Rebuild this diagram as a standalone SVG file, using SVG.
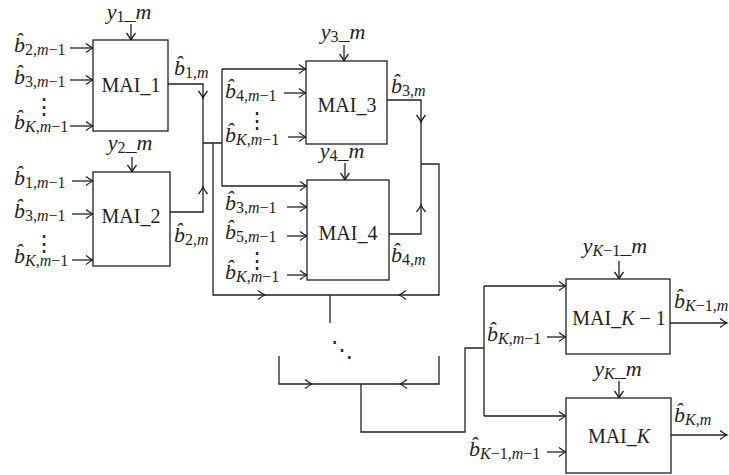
<svg xmlns="http://www.w3.org/2000/svg" xmlns:xlink="http://www.w3.org/1999/xlink" width="729" height="475" viewBox="0 0 729 475">
<style>
.t{font-family:"Liberation Serif","Times New Roman",serif;font-size:22px;fill:#231f20}
.i{font-style:italic}
.s{font-size:16px}
.mai{font-family:"Liberation Serif","Times New Roman",serif;font-size:20px;fill:#231f20;text-anchor:middle}
.d{font-family:"DejaVu Serif",serif;font-size:22px;fill:#231f20;text-anchor:middle}
.box{fill:#fff;stroke:#231f20;stroke-width:1.3}
.ln{fill:none;stroke:#231f20;stroke-width:1.3}
.ar{fill:none;stroke:#231f20;stroke-width:1.3;marker-end:url(#ah)}
</style>
<defs>
<marker id="ah" markerUnits="userSpaceOnUse" markerWidth="12" markerHeight="12" refX="0" refY="0" viewBox="-9 -6 10 12" orient="auto" overflow="visible">
<path d="M-7,-4.5 Q-2.5,-1 0,0 Q-2.5,1 -7,4.5" fill="none" stroke="#231f20" stroke-width="1.3"/>
</marker>
<path id="ch" d="M-7,-4.5 Q-2.5,-1 0,0 Q-2.5,1 -7,4.5" fill="none" stroke="#231f20" stroke-width="1.3"/>
</defs>
<rect width="729" height="475" fill="#fff"/>

<g id="connectors">
<path class="ln" d="M168,84 H203 V212 H170"/>
<path class="ln" d="M203,143 H222 M222,69 V186 M213,143 V295 H439 V164 H421"/>
<path class="ln" d="M387,100 H421 V234 H389"/>
<path class="ln" d="M330,295 V323"/>
<path class="ln" d="M279,356 V384 H439 V356 M361,384 V432 H465 V348 H484 M484,286 V416"/>
<use xlink:href="#ch" transform="translate(203,98) rotate(90)"/>
<use xlink:href="#ch" transform="translate(203,187) rotate(-90)"/>
<use xlink:href="#ch" transform="translate(265,295)"/>
<use xlink:href="#ch" transform="translate(399,295) rotate(180)"/>
<use xlink:href="#ch" transform="translate(421,122) rotate(90)"/>
<use xlink:href="#ch" transform="translate(421,205) rotate(-90)"/>
<use xlink:href="#ch" transform="translate(312,384)"/>
<use xlink:href="#ch" transform="translate(400,384) rotate(180)"/>
<path class="ar" d="M70,48 H93"/>
<path class="ar" d="M70,80 H93"/>
<path class="ar" d="M70,126 H93"/>
<path class="ar" d="M72,181 H93"/>
<path class="ar" d="M72,214 H93"/>
<path class="ar" d="M72,260 H93"/>
<path class="ar" d="M131,24 V40"/>
<path class="ar" d="M132,157 V172"/>
<path class="ar" d="M344,45 V61"/>
<path class="ar" d="M345,163 V180"/>
<path class="ar" d="M619,261 V279"/>
<path class="ar" d="M619,381 V398"/>
<path class="ar" d="M222,69 H306"/>
<path class="ar" d="M284,93 H306"/>
<path class="ar" d="M288,137 H306"/>
<path class="ar" d="M222,186 H307"/>
<path class="ar" d="M287,207 H307"/>
<path class="ar" d="M287,236 H307"/>
<path class="ar" d="M287,275 H307"/>
<path class="ar" d="M484,286 H566"/>
<path class="ar" d="M547,337 H566"/>
<path class="ar" d="M484,416 H566"/>
<path class="ar" d="M547,452 H566"/>
<path class="ar" d="M670,323 H727"/>
<path class="ar" d="M671,435 H727"/>
<text class="d" x="342" y="357">⋱</text>
</g>

<g id="mai1">
<rect class="box" x="93" y="40" width="75" height="91"/>
<text class="mai" x="131" y="92">MAI_1</text>
<text class="t" x="129" y="19" text-anchor="middle"><tspan class="i">y</tspan><tspan class="s" dy="3">1</tspan><tspan dy="-3">_</tspan><tspan class="i">m</tspan></text>
<text class="t" x="14" y="52"><tspan class="i">b̂</tspan><tspan class="s" dy="3">2,<tspan class="i">m</tspan>−1</tspan></text>
<text class="t" x="14" y="84"><tspan class="i">b̂</tspan><tspan class="s" dy="3">3,<tspan class="i">m</tspan>−1</tspan></text>
<text class="d" x="44" y="114">⋮</text>
<text class="t" x="14" y="129"><tspan class="i">b̂</tspan><tspan class="s" dy="3"><tspan class="i">K</tspan>,<tspan class="i">m</tspan>−1</tspan></text>
<text class="t" x="174" y="75"><tspan class="i">b̂</tspan><tspan class="s" dy="3">1,<tspan class="i">m</tspan></tspan></text>
</g>

<g id="mai2">
<rect class="box" x="93" y="172" width="77" height="94"/>
<text class="mai" x="131" y="223">MAI_2</text>
<text class="t" x="130" y="150" text-anchor="middle"><tspan class="i">y</tspan><tspan class="s" dy="3">2</tspan><tspan dy="-3">_</tspan><tspan class="i">m</tspan></text>
<text class="t" x="14" y="185"><tspan class="i">b̂</tspan><tspan class="s" dy="3">1,<tspan class="i">m</tspan>−1</tspan></text>
<text class="t" x="14" y="218"><tspan class="i">b̂</tspan><tspan class="s" dy="3">3,<tspan class="i">m</tspan>−1</tspan></text>
<text class="d" x="44" y="251">⋮</text>
<text class="t" x="14" y="263"><tspan class="i">b̂</tspan><tspan class="s" dy="3"><tspan class="i">K</tspan>,<tspan class="i">m</tspan>−1</tspan></text>
<text class="t" x="174" y="242"><tspan class="i">b̂</tspan><tspan class="s" dy="3">2,<tspan class="i">m</tspan></tspan></text>
</g>

<g id="mai3">
<rect class="box" x="306" y="61" width="81" height="83"/>
<text class="mai" x="347" y="112">MAI_3</text>
<text class="t" x="343" y="39" text-anchor="middle"><tspan class="i">y</tspan><tspan class="s" dy="3">3</tspan><tspan dy="-3">_</tspan><tspan class="i">m</tspan></text>
<text class="t" x="225" y="98"><tspan class="i">b̂</tspan><tspan class="s" dy="3">4,<tspan class="i">m</tspan>−1</tspan></text>
<text class="d" x="257" y="128">⋮</text>
<text class="t" x="225" y="142"><tspan class="i">b̂</tspan><tspan class="s" dy="3"><tspan class="i">K</tspan>,<tspan class="i">m</tspan>−1</tspan></text>
<text class="t" x="391" y="93"><tspan class="i">b̂</tspan><tspan class="s" dy="3">3,<tspan class="i">m</tspan></tspan></text>
</g>

<g id="mai4">
<rect class="box" x="307" y="180" width="82" height="100"/>
<text class="mai" x="348" y="240">MAI_4</text>
<text class="t" x="342" y="158" text-anchor="middle"><tspan class="i">y</tspan><tspan class="s" dy="3">4</tspan><tspan dy="-3">_</tspan><tspan class="i">m</tspan></text>
<text class="t" x="225" y="210"><tspan class="i">b̂</tspan><tspan class="s" dy="3">3,<tspan class="i">m</tspan>−1</tspan></text>
<text class="t" x="225" y="239"><tspan class="i">b̂</tspan><tspan class="s" dy="3">5,<tspan class="i">m</tspan>−1</tspan></text>
<text class="d" x="257" y="268">⋮</text>
<text class="t" x="225" y="279"><tspan class="i">b̂</tspan><tspan class="s" dy="3"><tspan class="i">K</tspan>,<tspan class="i">m</tspan>−1</tspan></text>
<text class="t" x="391" y="262"><tspan class="i">b̂</tspan><tspan class="s" dy="3">4,<tspan class="i">m</tspan></tspan></text>
</g>

<g id="maiK1">
<rect class="box" x="566" y="279" width="104" height="75"/>
<text class="mai" x="619" y="325">MAI_<tspan class="i">K</tspan> − 1</text>
<text class="t" x="615" y="253" text-anchor="middle"><tspan class="i">y</tspan><tspan class="s" dy="3"><tspan class="i">K</tspan>−1</tspan><tspan dy="-3">_</tspan><tspan class="i">m</tspan></text>
<text class="t" x="487" y="341"><tspan class="i">b̂</tspan><tspan class="s" dy="3"><tspan class="i">K</tspan>,<tspan class="i">m</tspan>−1</tspan></text>
<text class="t" x="674" y="308"><tspan class="i">b̂</tspan><tspan class="s" dy="3"><tspan class="i">K</tspan>−1,<tspan class="i">m</tspan></tspan></text>
</g>

<g id="maiK">
<rect class="box" x="566" y="398" width="105" height="75"/>
<text class="mai" x="619" y="443">MAI_<tspan class="i">K</tspan></text>
<text class="t" x="618" y="376" text-anchor="middle"><tspan class="i">y</tspan><tspan class="s" dy="3"><tspan class="i">K</tspan></tspan><tspan dy="-3">_</tspan><tspan class="i">m</tspan></text>
<text class="t" x="469" y="456"><tspan class="i">b̂</tspan><tspan class="s" dy="3"><tspan class="i">K</tspan>−1,<tspan class="i">m</tspan>−1</tspan></text>
<text class="t" x="674" y="422"><tspan class="i">b̂</tspan><tspan class="s" dy="3"><tspan class="i">K</tspan>,<tspan class="i">m</tspan></tspan></text>
</g>
</svg>
